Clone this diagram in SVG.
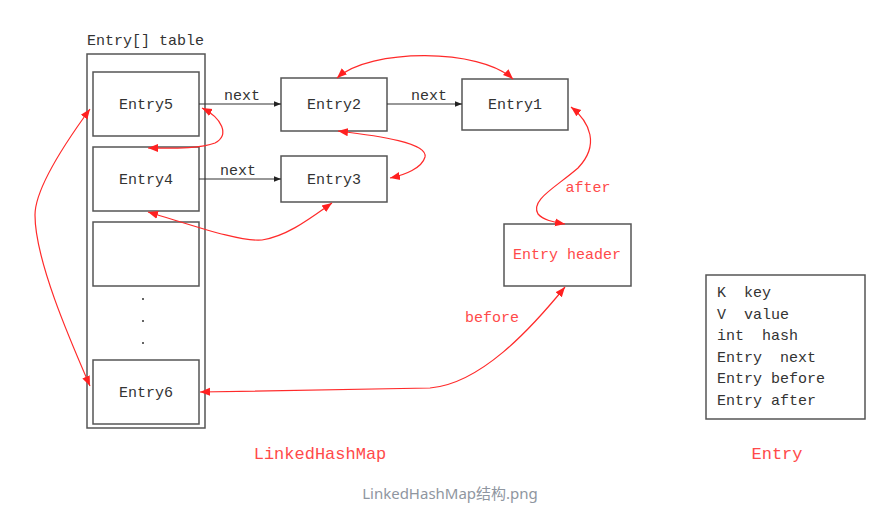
<svg xmlns="http://www.w3.org/2000/svg" width="880" height="514" viewBox="0 0 880 514" xml:space="preserve">
<defs>
<style>
.box{fill:#fff;stroke:#555;stroke-width:1.5}
.t{font-family:'Liberation Mono','Courier New',monospace;font-size:15px;fill:#333;white-space:pre}
.c{text-anchor:middle}
.r{fill:#ff4a4a}
.lk{stroke:#333;stroke-width:1.2;fill:none;marker-end:url(#ab)}
.rl{stroke:#ff2a2a;stroke-width:1.2;fill:none;marker-start:url(#ar);marker-end:url(#ar)}
</style>
<marker id="ab" viewBox="0 0 10 10" refX="10" refY="5" markerWidth="7" markerHeight="7" markerUnits="userSpaceOnUse" orient="auto"><path d="M0,1 L10,5 L0,9 Z" fill="#222"/></marker>
<marker id="ar" viewBox="0 0 10 10" refX="10" refY="5" markerWidth="10" markerHeight="10" markerUnits="userSpaceOnUse" orient="auto-start-reverse"><path d="M0,1 L10,5 L0,9 Z" fill="#ff2020"/></marker>
</defs>
<rect width="880" height="514" fill="#fff"/>
<g id="table">
<text class="t" x="87" y="45">Entry[] table</text>
<rect class="box" x="87" y="54" width="118" height="374"/>
</g>
<g id="entry5"><rect class="box" x="93" y="72" width="106" height="64"/><text class="t c" x="146" y="109">Entry5</text></g>
<g id="entry4"><rect class="box" x="93" y="147" width="106" height="64"/><text class="t c" x="146" y="184">Entry4</text></g>
<g id="empty"><rect class="box" x="93" y="222" width="106" height="64"/></g>
<g id="dots" fill="#333"><circle cx="143" cy="299" r="1"/><circle cx="143" cy="321" r="1"/><circle cx="143" cy="343" r="1"/></g>
<g id="entry6"><rect class="box" x="93" y="360" width="106" height="64"/><text class="t c" x="146" y="397">Entry6</text></g>
<g id="entry2"><rect class="box" x="281" y="78" width="106" height="53"/><text class="t c" x="334" y="109">Entry2</text></g>
<g id="entry3"><rect class="box" x="281" y="156" width="106" height="46"/><text class="t c" x="334" y="184">Entry3</text></g>
<g id="entry1"><rect class="box" x="462" y="79" width="106" height="51"/><text class="t c" x="515" y="109">Entry1</text></g>
<g id="header"><rect class="box" x="504" y="224" width="127" height="62"/><text class="t c r" x="567" y="259">Entry header</text></g>
<g id="entryStruct">
<rect class="box" x="706" y="275" width="159" height="144"/>
<text class="t" x="717" y="297">K  key</text>
<text class="t" x="717" y="318.5">V  value</text>
<text class="t" x="717" y="340">int  hash</text>
<text class="t" x="717" y="361.5">Entry  next</text>
<text class="t" x="717" y="383">Entry before</text>
<text class="t" x="717" y="404.5">Entry after</text>
</g>
<g id="connectors">
<path class="lk" d="M199,104 L281,104"/>
<text class="t c" x="242" y="100">next</text>
<path class="lk" d="M199,179 L281,179"/>
<text class="t c" x="238" y="175">next</text>
<path class="lk" d="M387,104 L462,104"/>
<text class="t c" x="429" y="100">next</text>
<path class="rl" d="M337,78 C370,48 480,48 513,79"/>
<path class="rl" d="M202,108 C222,118 230,135 215,143 C200,149 170,148 148,148"/>
<path class="rl" d="M338,131 C380,136 428,143 425,157 C422,168 405,175 390,178"/>
<path class="rl" d="M148,212 C195,226 240,242 262,240 C288,236 312,217 332,203"/>
<path class="rl" d="M90,109 C60,150 35,190 35,215 C35,260 70,340 90,386"/>
<path class="rl" d="M571,107 C590,122 600,145 578,168 C555,188 530,200 538,214 C543,220 553,222 565,224"/>
<path class="rl" d="M200,392 L430,388 C480,384 530,330 565,287"/>
<text class="t c r" x="588" y="192">after</text>
<text class="t c r" x="492" y="322">before</text>
</g>
<text class="t c r" x="320" y="459" style="font-size:17px">LinkedHashMap</text>
<text class="t c r" x="777" y="459" style="font-size:17px">Entry</text>
<text x="450" y="499" text-anchor="middle" style="font-family:'Noto Sans','Noto Sans CJK SC',sans-serif;font-size:15px;fill:#8f96a0">LinkedHashMap结构.png</text>
</svg>
